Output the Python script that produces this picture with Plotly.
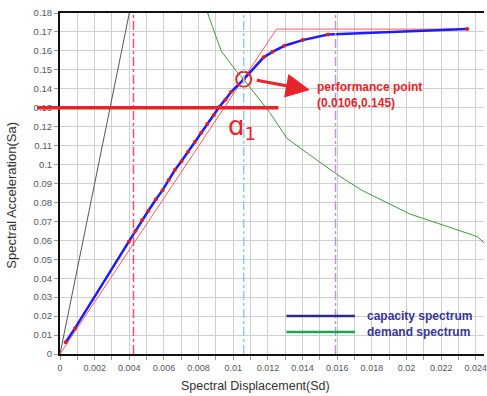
import plotly.graph_objects as go

# Capacity spectrum (Sd, Sa) of the structure
capacity_sd = [0.00033, 0.00086, 0.00397, 0.00436, 0.00474, 0.0051, 0.00554, 0.00592,
               0.00627, 0.00663, 0.00701, 0.00739, 0.00778, 0.00815, 0.0085, 0.00888,
               0.0092, 0.00955, 0.00987, 0.0106, 0.01175, 0.01226, 0.01295, 0.014,
               0.01547, 0.0235]
capacity_sa = [0.0062, 0.0135, 0.0593, 0.0651, 0.0707, 0.0756, 0.0817, 0.0865,
               0.0918, 0.0971, 0.1018, 0.1068, 0.1119, 0.1168, 0.1214, 0.1261,
               0.1305, 0.1344, 0.1383, 0.145, 0.1566, 0.1595, 0.1627, 0.1657,
               0.1687, 0.1715]

# Demand spectrum
demand_sd = [0.00852, 0.0093, 0.0102, 0.0106, 0.0121, 0.0131, 0.0159, 0.0174,
             0.0202, 0.0241, 0.0245]
demand_sa = [0.18, 0.160, 0.149, 0.145, 0.1275, 0.1138, 0.0953, 0.0865,
             0.0739, 0.0619, 0.0584]

# Bilinear idealisation of the capacity curve
bilinear_sd = [0.0, 0.0125, 0.0235]
bilinear_sa = [0.0, 0.1715, 0.1715]

# Initial stiffness line
initial_sd = [0.0, 0.0040]
initial_sa = [0.0, 0.18]

# Performance point
perf_sd = 0.0106
perf_sa = 0.145

# Vertical reference displacements
limit_sd = [0.00424, 0.0106, 0.0159]
limit_colors = ["#ff4d6a", "#86cdf2", "#c58ee8"]

# Horizontal level a1
a1_sa = 0.13
a1_sd_end = 0.0126

x_range = [0.0, 0.02447]
y_range = [0.0, 0.18]

FONT = "Liberation Sans, Arial, sans-serif"
RED = "#e8232b"

fig = go.Figure()

fig.add_trace(go.Scatter(x=initial_sd, y=initial_sa, mode="lines",
                         line=dict(color="#555555", width=1), showlegend=False))
fig.add_trace(go.Scatter(x=bilinear_sd, y=bilinear_sa, mode="lines",
                         line=dict(color="#ff5a5a", width=1), showlegend=False))
fig.add_trace(go.Scatter(x=demand_sd, y=demand_sa, mode="lines",
                         line=dict(color="#3e9b3e", width=1), showlegend=False))
fig.add_trace(go.Scatter(x=capacity_sd, y=capacity_sa, mode="lines+markers",
                         line=dict(color="#1c1cff", width=2.5),
                         marker=dict(color="#e02020", size=4),
                         showlegend=False))
fig.add_trace(go.Scatter(x=[perf_sd], y=[perf_sa], mode="markers",
                         marker=dict(symbol="circle-open", size=15,
                                     color=RED, line=dict(color=RED, width=2)),
                         showlegend=False, cliponaxis=False))

shapes = []
for sd, col in zip(limit_sd, limit_colors):
    shapes.append(dict(type="line", xref="x", yref="y domain", x0=sd, x1=sd,
                       y0=0, y1=1, line=dict(color=col, width=1.5, dash="dashdot"),
                       layer="above"))

# a1 level line, reaching past the left axis
xspan = x_range[1] - x_range[0]
shapes.append(dict(type="line", xref="x domain", yref="y",
                   x0=-0.054, x1=(a1_sd_end - x_range[0]) / xspan,
                   y0=a1_sa, y1=a1_sa, line=dict(color=RED, width=3.5),
                   layer="above"))

# legend lines
legend_items = [("capacity spectrum", "#2b2b8f", 0.1114),
                ("demand spectrum", "#1aa650", 0.0645)]
annotations = []
for label, col, yp in legend_items:
    shapes.append(dict(type="line", xref="paper", yref="paper",
                       x0=0.534, x1=0.6956, y0=yp, y1=yp,
                       line=dict(color=col, width=2.5)))
    annotations.append(dict(xref="paper", yref="paper", x=0.719, y=yp,
                            text=label, showarrow=False, xanchor="left",
                            yanchor="middle",
                            font=dict(family=FONT, size=12, color="#36369a",
                                      weight="bold")))

# arrow to the performance point label
annotations.append(dict(x=0.01442, y=0.1393, ax=0.01127, ay=0.1446,
                        xref="x", yref="y", axref="x", ayref="y",
                        text="", showarrow=True, arrowhead=2, arrowsize=1.6,
                        arrowwidth=3, arrowcolor=RED))
annotations.append(dict(x=0.01473, y=0.1367, xref="x", yref="y",
                        text=f"performance point<br>({perf_sd},{perf_sa})",
                        showarrow=False, xanchor="left", yanchor="middle",
                        align="left",
                        font=dict(family=FONT, size=12, color=RED, weight="bold")))
annotations.append(dict(x=0.0105, y=0.1195, xref="x", yref="y",
                        text="ɑ<sub>1</sub>", showarrow=False,
                        font=dict(family="DejaVu Sans", size=26, color=RED)))

# axis titles
annotations.append(dict(xref="paper", yref="paper", x=0.461, y=-0.095,
                        text="Spectral Displacement(Sd)", showarrow=False,
                        yanchor="middle",
                        font=dict(family=FONT, size=12.5, color="#333333")))
annotations.append(dict(xref="paper", yref="paper", x=-0.115, y=0.465,
                        text="Spectral Acceleration(Sa)", showarrow=False,
                        textangle=-90, xanchor="center", yanchor="middle",
                        font=dict(family=FONT, size=13, color="#333333")))

grid = "#cfcfcf"
fig.update_layout(
    width=487, height=396,
    margin=dict(l=60, r=0, t=13, b=42),
    paper_bgcolor="white", plot_bgcolor="white",
    shapes=shapes, annotations=annotations,
    showlegend=False,
    xaxis=dict(range=x_range, dtick=0.002, tick0=0, showgrid=True,
               gridcolor=grid, gridwidth=1, zeroline=False,
               showline=True, linecolor="#111111", linewidth=2, mirror=True,
               ticks="outside", ticklen=4, tickcolor="#999999",
               ticklabeloverflow="allow",
               minor=dict(dtick=0.001, showgrid=True, gridcolor=grid,
                          ticks="outside", ticklen=4, tickcolor="#999999"),
               tickfont=dict(family=FONT, size=9, color="#555566")),
    yaxis=dict(range=y_range, dtick=0.01, tick0=0, showgrid=True,
               gridcolor=grid, gridwidth=1, zeroline=False,
               showline=True, linecolor="#111111", linewidth=2,
               ticks="outside", ticklen=4, tickcolor="#999999",
               tickfont=dict(family=FONT, size=9.5, color="#555566")),
)

fig.write_html("out.html")
